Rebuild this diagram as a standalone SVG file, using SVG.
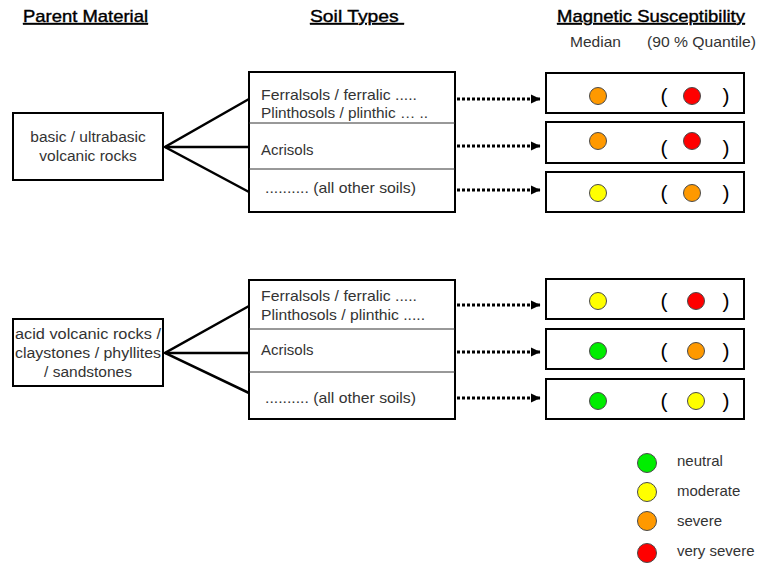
<svg xmlns="http://www.w3.org/2000/svg" width="759" height="563" viewBox="0 0 759 563">
<defs>
<marker id="ah" markerWidth="10" markerHeight="10" refX="9" refY="5" orient="auto" markerUnits="userSpaceOnUse">
<path d="M0,0.5 L9.5,5 L0,9.5 Z" fill="#000"/>
</marker>
</defs>
<style>
.head{font-family:"Liberation Sans",Arial,sans-serif;font-size:17px;fill:#000;stroke:#000;stroke-width:0.4;text-decoration:underline}
.txt{font-family:"Liberation Sans",Arial,sans-serif;font-size:15px;fill:#333}
.big{font-family:"Liberation Sans",Arial,sans-serif;font-size:15.5px;fill:#333}
.par{font-family:"Liberation Sans",Arial,sans-serif;font-size:21px;fill:#000}
.box{fill:#fff;stroke:#000;stroke-width:2}
.div{stroke:#333;stroke-width:1}
.link{stroke:#000;stroke-width:2.5;fill:none}
.arr{stroke:#000;stroke-width:3;stroke-dasharray:3 2;fill:none;marker-end:url(#ah)}
.g{fill:#00ee00;stroke:#4a4a4a;stroke-width:1}
.y{fill:#ffff00;stroke:#4a4a4a;stroke-width:1}
.o{fill:#ff9900;stroke:#4a4a4a;stroke-width:1}
.r{fill:#ff0000;stroke:#4a4a4a;stroke-width:1}
</style>
<rect width="759" height="563" fill="#fff"/>

<g id="headings">
<text class="head" x="23" y="22" textLength="125" lengthAdjust="spacingAndGlyphs">Parent Material</text>
<text class="head" x="310" y="22" textLength="94" lengthAdjust="spacingAndGlyphs" xml:space="preserve">Soil Types </text>
<text class="head" x="557" y="22" textLength="188" lengthAdjust="spacingAndGlyphs">Magnetic Susceptibility</text>
<text class="txt" x="570" y="47" textLength="51" lengthAdjust="spacingAndGlyphs">Median</text>
<text class="txt" x="647" y="47" textLength="109" lengthAdjust="spacingAndGlyphs">(90 % Quantile)</text>
</g>

<g id="connectors">
<polyline class="link" points="249,99 165,147 249,192"/>
<line class="link" x1="165" y1="147" x2="249" y2="147"/>
<polyline class="link" points="249,306 165,353 249,393"/>
<line class="link" x1="165" y1="353" x2="249" y2="353"/>
<line class="arr" x1="457" y1="99" x2="540" y2="99"/>
<line class="arr" x1="457" y1="146" x2="540" y2="146"/>
<line class="arr" x1="457" y1="190" x2="540" y2="190"/>
<line class="arr" x1="457" y1="305" x2="540" y2="305"/>
<line class="arr" x1="457" y1="352" x2="540" y2="352"/>
<line class="arr" x1="457" y1="398" x2="540" y2="398"/>
</g>

<g id="parent1">
<rect class="box" x="13" y="113" width="150" height="67"/>
<text class="big" x="88" y="142" text-anchor="middle">basic / ultrabasic</text>
<text class="big" x="88" y="161" text-anchor="middle">volcanic rocks</text>
</g>

<g id="parent2">
<rect class="box" x="13" y="319" width="150" height="67"/>
<text class="big" x="88" y="339" text-anchor="middle" textLength="146" lengthAdjust="spacingAndGlyphs">acid volcanic rocks /</text>
<text class="big" x="88" y="358" text-anchor="middle" textLength="146" lengthAdjust="spacingAndGlyphs">claystones / phyllites</text>
<text class="big" x="88" y="377" text-anchor="middle">/ sandstones</text>
</g>

<g id="soils1">
<rect class="box" x="249" y="72" width="206" height="140"/>
<line class="div" x1="249" y1="123" x2="455" y2="123"/>
<line class="div" x1="249" y1="169" x2="455" y2="169"/>
<text class="txt" x="261" y="100" textLength="156" lengthAdjust="spacingAndGlyphs">Ferralsols / ferralic .....</text>
<text class="txt" x="261" y="118" textLength="167" lengthAdjust="spacingAndGlyphs">Plinthosols / plinthic … ..</text>
<text class="txt" x="261" y="155">Acrisols</text>
<text class="txt" x="265" y="193" textLength="151" lengthAdjust="spacingAndGlyphs">.......... (all other soils)</text>
</g>

<g id="soils2">
<rect class="box" x="249" y="280" width="206" height="139"/>
<line class="div" x1="249" y1="329" x2="455" y2="329"/>
<line class="div" x1="249" y1="372" x2="455" y2="372"/>
<text class="txt" x="261" y="301" textLength="156" lengthAdjust="spacingAndGlyphs">Ferralsols / ferralic .....</text>
<text class="txt" x="261" y="320" textLength="164" lengthAdjust="spacingAndGlyphs">Plinthosols / plinthic .....</text>
<text class="txt" x="261" y="355">Acrisols</text>
<text class="txt" x="265" y="403" textLength="151" lengthAdjust="spacingAndGlyphs">.......... (all other soils)</text>
</g>

<g id="ms1">
<rect class="box" x="546" y="73" width="198" height="40"/>
<circle class="o" cx="598" cy="96" r="8.5"/>
<text class="par" x="664" y="103" text-anchor="middle">(</text>
<circle class="r" cx="692" cy="96" r="8.5"/>
<text class="par" x="726" y="103" text-anchor="middle">)</text>
</g>
<g id="ms2">
<rect class="box" x="546" y="122" width="198" height="41"/>
<circle class="o" cx="598" cy="141" r="8.5"/>
<text class="par" x="664" y="155" text-anchor="middle">(</text>
<circle class="r" cx="692" cy="141" r="8.5"/>
<text class="par" x="726" y="155" text-anchor="middle">)</text>
</g>
<g id="ms3">
<rect class="box" x="546" y="172" width="198" height="40"/>
<circle class="y" cx="598" cy="193" r="8.5"/>
<text class="par" x="664" y="200" text-anchor="middle">(</text>
<circle class="o" cx="692" cy="193" r="8.5"/>
<text class="par" x="726" y="200" text-anchor="middle">)</text>
</g>
<g id="ms4">
<rect class="box" x="546" y="279" width="198" height="40"/>
<circle class="y" cx="598" cy="301" r="8.5"/>
<text class="par" x="664" y="308" text-anchor="middle">(</text>
<circle class="r" cx="696" cy="301" r="8.5"/>
<text class="par" x="726" y="308" text-anchor="middle">)</text>
</g>
<g id="ms5">
<rect class="box" x="546" y="329" width="198" height="40"/>
<circle class="g" cx="598" cy="351" r="8.5"/>
<text class="par" x="664" y="358" text-anchor="middle">(</text>
<circle class="o" cx="696" cy="351" r="8.5"/>
<text class="par" x="726" y="358" text-anchor="middle">)</text>
</g>
<g id="ms6">
<rect class="box" x="546" y="379" width="198" height="40"/>
<circle class="g" cx="598" cy="401" r="8.5"/>
<text class="par" x="664" y="408" text-anchor="middle">(</text>
<circle class="y" cx="696" cy="401" r="8.5"/>
<text class="par" x="726" y="408" text-anchor="middle">)</text>
</g>

<g id="legend">
<circle class="g" cx="647" cy="463" r="9.5"/>
<text class="txt" x="677" y="466">neutral</text>
<circle class="y" cx="647" cy="492" r="9.5"/>
<text class="txt" x="677" y="496">moderate</text>
<circle class="o" cx="647" cy="521" r="9.5"/>
<text class="txt" x="677" y="526">severe</text>
<circle class="r" cx="647" cy="553" r="9.5"/>
<text class="txt" x="677" y="556">very severe</text>
</g>
</svg>
